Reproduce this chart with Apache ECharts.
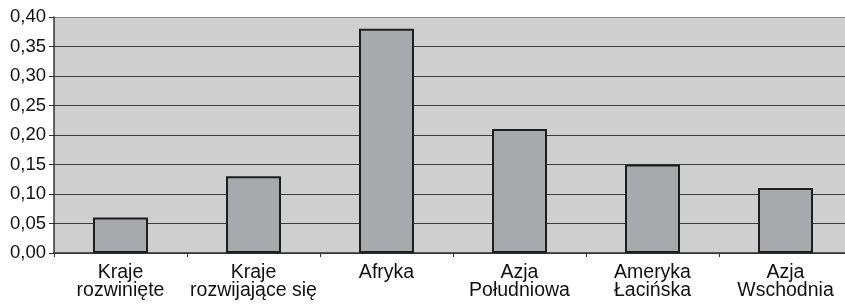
<!DOCTYPE html>
<html><head><meta charset="utf-8">
<style>html,body{margin:0;padding:0;background:#fff}#c{width:845px;height:305px}</style>
<script src="https://cdn.jsdelivr.net/npm/echarts@6/dist/echarts.min.js"></script>
</head><body><div id="c"></div>
<script>
const categories = ["Kraje\nrozwinięte", "Kraje\nrozwijające się", "Afryka", "Azja\nPołudniowa", "Ameryka\nŁacińska", "Azja\nWschodnia"];
const values = [0.06, 0.13, 0.38, 0.21, 0.15, 0.11];
const yTicks = [0, 0.05, 0.10, 0.15, 0.20, 0.25, 0.30, 0.35, 0.40];

const chart = echarts.init(document.getElementById('c'), null, {renderer: 'canvas'});
chart.setOption({
  animation: false,
  textStyle: {fontFamily: 'Liberation Sans, Arial, sans-serif'},
  grid: {left: 54, width: 798, top: 17, height: 236, containLabel: false,
         outerBoundsMode: 'none',
         show: true, backgroundColor: '#cfcfcf', borderWidth: 0},
  xAxis: {
    type: 'category', data: categories,
    axisLine: {show: true, lineStyle: {color: '#333', width: 1.5}},
    axisTick: {show: true, length: 4, alignWithLabel: false, lineStyle: {color: '#333'}},
    axisLabel: {color: '#111', fontSize: 19.5, lineHeight: 18, margin: 11, interval: 0}
  },
  yAxis: {
    type: 'value', min: yTicks[0], max: yTicks[yTicks.length - 1], interval: 0.05,
    axisLine: {show: true, lineStyle: {color: '#333', width: 1.5}},
    axisTick: {show: true, length: 5, lineStyle: {color: '#333'}},
    splitLine: {show: true, lineStyle: {
      color: ['#3a3a3a', '#3a3a3a', '#3a3a3a', '#3a3a3a', '#3a3a3a', '#3a3a3a', '#3a3a3a', '#3a3a3a', '#888888'],
      width: 1.2}},
    axisLabel: {color: '#111', fontSize: 18.5, margin: 8,
      formatter: v => v.toFixed(2).replace('.', ',')}
  },
  series: [{
    type: 'bar', data: values, barWidth: 55,
    itemStyle: {color: '#a8a9ad', borderColor: '#1e1e1e', borderWidth: 2}
  }]
});
</script></body></html>
